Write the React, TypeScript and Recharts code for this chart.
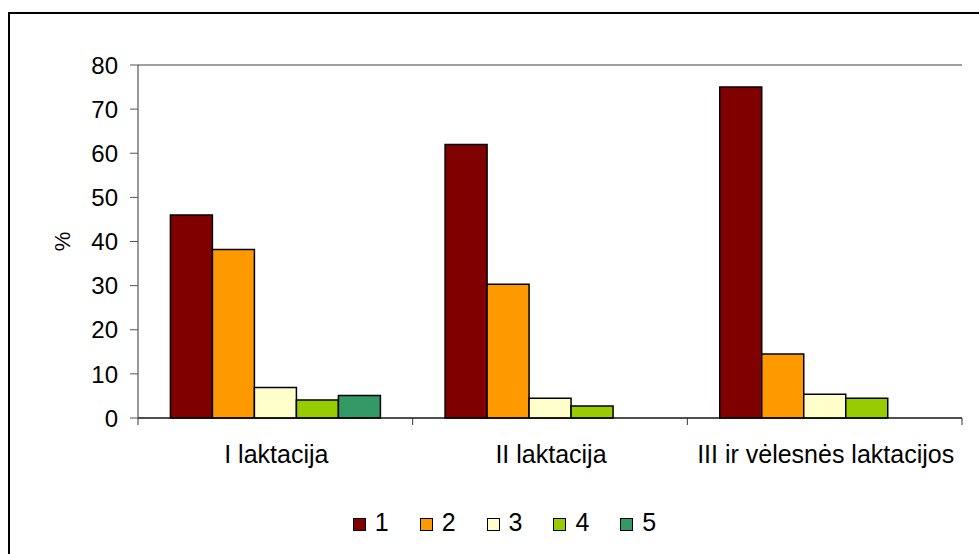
import { BarChart, Bar, XAxis, YAxis, CartesianGrid, Legend } from "recharts";

const categories = ["I laktacija", "II laktacija", "III ir vėlesnės laktacijos"];
const series1 = [46, 62, 75];
const series2 = [38.2, 30.3, 14.5];
const series3 = [6.9, 4.5, 5.4];
const series4 = [4.1, 2.7, 4.5];
const series5 = [5.1, null, null];
const yTicks = [0, 10, 20, 30, 40, 50, 60, 70, 80];

const seriesNames = ["1", "2", "3", "4", "5"];
const COLORS = ["#800000", "#FF9900", "#FFFFCC", "#99CC00", "#339966"];

const data = categories.map((name, i) => ({
  name,
  s1: series1[i],
  s2: series2[i],
  s3: series3[i],
  s4: series4[i],
  s5: series5[i],
}));

const FONT = "'Liberation Sans', Arial, sans-serif";

// category ticks: labels in the middle, tick marks on the band edges (excel style)
const XTick = (props: any) => {
  const { x, y, payload, index, visibleTicksCount, width } = props;
  const half = payload?.offset || width / visibleTicksCount / 2;
  const last = index === visibleTicksCount - 1;
  return (
    <g>
      <line x1={x - half} x2={x - half} y1={y} y2={y + 7} stroke="#333" />
      {last && <line x1={x + half} x2={x + half} y1={y} y2={y + 7} stroke="#333" />}
      <text x={x + 1} y={y + 45} textAnchor="middle" fontSize={25} fontFamily={FONT} fill="#000">
        {payload.value}
      </text>
    </g>
  );
};

const YTick = (props: any) => {
  const { x, y, payload } = props;
  return (
    <text
      x={x}
      y={y}
      dy="0.36em"
      textAnchor="end"
      fontSize={24}
      fontFamily={FONT}
      fill="#000"
    >
      {payload.value}
    </text>
  );
};

const LegendBox = () => (
  <div style={{ display: "flex", justifyContent: "center", fontFamily: FONT, fontSize: 25 }}>
    {seriesNames.map((n, i) => (
      <div key={n} style={{ display: "flex", alignItems: "center", marginRight: i < 4 ? 31 : 0 }}>
        <span
          style={{
            display: "inline-block",
            width: 11,
            height: 11,
            background: COLORS[i],
            border: "1.5px solid #000",
            marginRight: 9,
            marginTop: 4,
          }}
        />
        <span style={{ lineHeight: "28px" }}>{n}</span>
      </div>
    ))}
  </div>
);

export default function App() {
  return (
    <div style={{ position: "fixed", left: 0, top: 0, width: 979, height: 554, overflow: "hidden", background: "#fff" }}>
      <div
        style={{
          position: "absolute",
          left: 8,
          top: 12,
          width: 1000,
          height: 600,
          border: "2.5px solid #000",
        }}
      />
      <div style={{ position: "absolute", left: 0, top: 0 }}>
        <BarChart
          width={979}
          height={554}
          data={data}
          margin={{ top: 65, right: 17, left: 40, bottom: 76 }}
          barCategoryGap="11.8%"
          barGap={0}
        >
          <CartesianGrid vertical={false} stroke="#808080" strokeWidth={1.3} />
          <XAxis
            dataKey="name"
            height={60}
            tickSize={0}
            tickMargin={0}
            tickLine={false}
            axisLine={{ stroke: "#000" }}
            tick={<XTick />}
            interval={0}
          />
          <YAxis
            yAxisId="left"
            width={98}
            domain={[0, 80]}
            ticks={yTicks}
            tickSize={8}
            tickMargin={12}
            axisLine={{ stroke: "#333" }}
            tickLine={{ stroke: "#555" }}
            tick={<YTick />}
            label={(p: any) => {
              const vb = p.viewBox || {};
              const cx = (vb.x ?? 40) + 22;
              const cy = (vb.y ?? 65) + (vb.height ?? 353) / 2;
              return (
                <text
                  x={cx}
                  y={cy}
                  transform={`rotate(-90, ${cx}, ${cy})`}
                  textAnchor="middle"
                  dy="0.36em"
                  fontSize={22}
                  fontFamily={FONT}
                  fill="#000"
                >
                  %
                </text>
              );
            }}
          />
          <YAxis
            yAxisId="right"
            orientation="right"
            width={0}
            domain={[0, 80]}
            tick={false}
            tickLine={false}
            axisLine={{ stroke: "#808080", strokeWidth: 1.3 }}
          />
          <Legend
            verticalAlign="middle"
            align="center"
            layout="horizontal"
            content={<LegendBox />}
            wrapperStyle={{ top: 508, left: 0, width: 979, paddingLeft: 30, boxSizing: "border-box" }}
          />
          {(["s1", "s2", "s3", "s4", "s5"] as const).map((k, i) => (
            <Bar
              key={k}
              yAxisId="left"
              dataKey={k}
              name={seriesNames[i]}
              fill={COLORS[i]}
              stroke="#000"
              strokeWidth={1.5}
              isAnimationActive={false}
            />
          ))}
        </BarChart>
      </div>
    </div>
  );
}
